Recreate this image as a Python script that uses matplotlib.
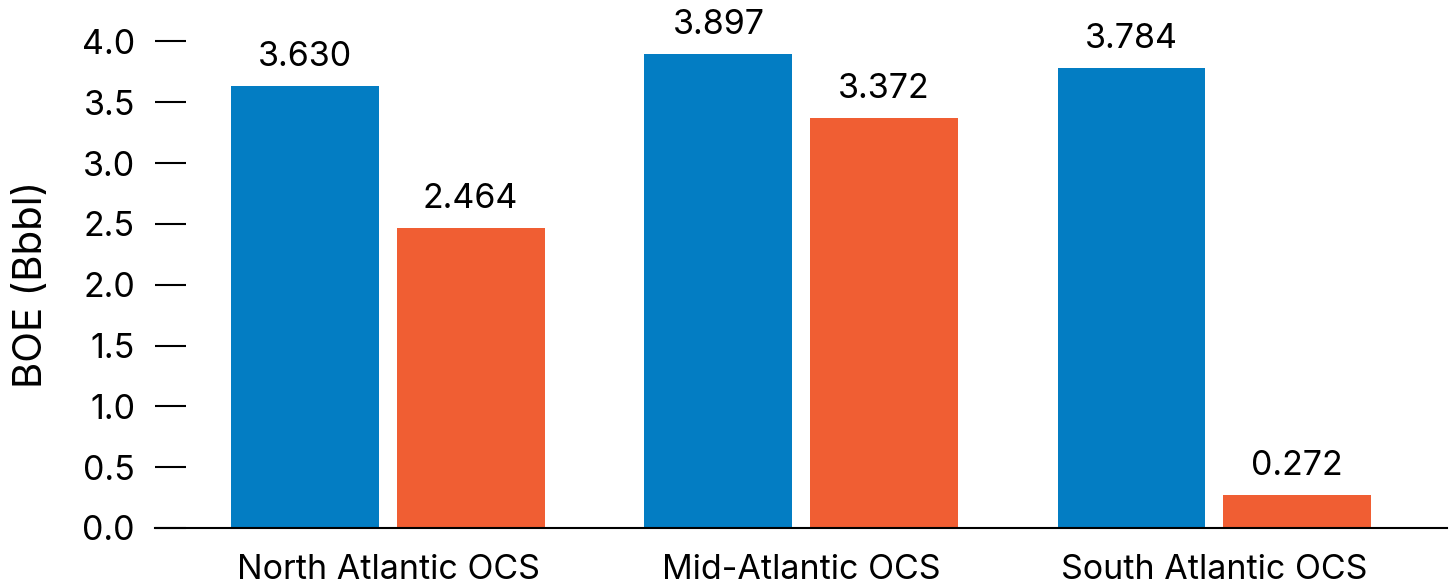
import numpy as np
import matplotlib.pyplot as plt

plt.rcParams['font.family'] = ['Inter', 'DejaVu Sans']

regions = ['North Atlantic OCS', 'Mid-Atlantic OCS', 'South Atlantic OCS']
blue_vals = [3.630, 3.897, 3.784]
orange_vals = [2.464, 3.372, 0.272]

blue = '#037DC3'
orange = '#F05E33'

fig = plt.figure(figsize=(14.53, 5.88), dpi=100)
ax = fig.add_axes([155 / 1453, 60 / 588, 1292 / 1453, 523 / 588])

x = np.arange(len(regions))
w = 0.358
off = 0.2
b1 = ax.bar(x - off, blue_vals, w, color=blue)
b2 = ax.bar(x + off, orange_vals, w, color=orange)

for bars, vals in [(b1, blue_vals), (b2, orange_vals)]:
    for r, v in zip(bars, vals):
        ax.annotate(f'{v:.3f}', (r.get_x() + r.get_width() / 2, v),
                    xytext=(0, 14.4), textcoords='offset points',
                    ha='center', va='baseline', fontsize=24.5)

ax.set_xlim(-0.564, 2.564)
ax.set_ylim(0, 4.3)
ax.set_yticks(np.arange(0, 4.01, 0.5))
ax.set_yticklabels([f'{t:.1f}' for t in np.arange(0, 4.01, 0.5)])
ax.set_xticks(x)
ax.set_xticklabels(regions)

for s in ['top', 'right', 'left']:
    ax.spines[s].set_visible(False)
ax.spines['bottom'].set_linewidth(1.5)
ax.tick_params(axis='y', direction='in', length=22.3, width=1.5, pad=14.4, labelsize=24.5)
ax.tick_params(axis='x', length=0, pad=19, labelsize=24.5)
ax.set_ylabel('BOE (Bbbl)', fontsize=29)
ax.yaxis.set_label_coords(-105 / 1292, 2.0 / 4.3)

fig.savefig('out.png', dpi=100)
